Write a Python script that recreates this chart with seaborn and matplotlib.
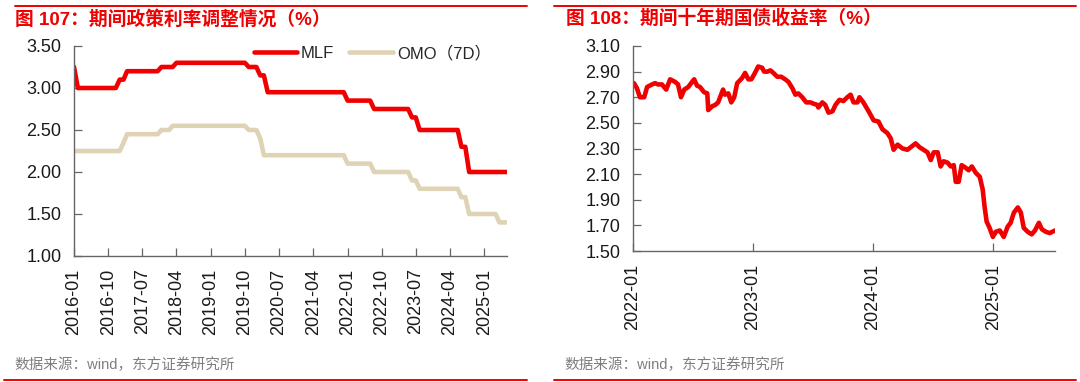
import pandas as pd
import matplotlib
matplotlib.use("Agg")
import matplotlib.pyplot as plt
import matplotlib.dates as mdates
from matplotlib.lines import Line2D
import seaborn as sns

# left chart: monthly policy rates, 2016-01 .. 2025-07
months = pd.date_range("2016-01-01", "2025-07-01", freq="MS")
mlf = ([3.25] + [3.00] * 11 + [3.10] * 2 + [3.20] * 9 + [3.25] * 4 + [3.30] * 19
       + [3.25] * 3 + [3.15] * 2 + [2.95] * 21 + [2.85] * 7 + [2.75] * 10
       + [2.65] * 2 + [2.50] * 11 + [2.30] * 2 + [2.00] * 11)
omo = ([2.25] * 13 + [2.35] + [2.45] * 9 + [2.50] * 3 + [2.55] * 20 + [2.50] * 3
       + [2.40] + [2.20] * 22 + [2.10] * 7 + [2.00] * 10 + [1.90] * 2
       + [1.80] * 11 + [1.70] * 2 + [1.50] * 8 + [1.40] * 3)

# right chart: 10y government bond yield
bond_dates = [
    "2022-01-04", "2022-01-13", "2022-01-22", "2022-02-04", "2022-02-13", "2022-02-28",
    "2022-03-09", "2022-03-18", "2022-03-30", "2022-04-12", "2022-04-24", "2022-05-09",
    "2022-05-18", "2022-05-27", "2022-06-06", "2022-06-18", "2022-07-06", "2022-07-15",
    "2022-07-24", "2022-08-05", "2022-08-15", "2022-08-18", "2022-08-30", "2022-09-08",
    "2022-09-17", "2022-10-02", "2022-10-08", "2022-10-18", "2022-10-27", "2022-11-05",
    "2022-11-14", "2022-11-29", "2022-12-08", "2022-12-18", "2022-12-27", "2023-01-05",
    "2023-01-17", "2023-01-29", "2023-02-04", "2023-02-14", "2023-02-23", "2023-03-04",
    "2023-03-16", "2023-03-28", "2023-04-09", "2023-04-19", "2023-05-01", "2023-05-10",
    "2023-05-19", "2023-05-31", "2023-06-12", "2023-06-25", "2023-07-04", "2023-07-16",
    "2023-07-19", "2023-07-31", "2023-08-09", "2023-08-19", "2023-08-31", "2023-09-09",
    "2023-09-21", "2023-10-03", "2023-10-15", "2023-10-25", "2023-11-03", "2023-11-15",
    "2023-11-21", "2023-12-03", "2023-12-19", "2024-01-03", "2024-01-18", "2024-01-30",
    "2024-02-14", "2024-02-24", "2024-03-04", "2024-03-16", "2024-03-31", "2024-04-15",
    "2024-04-25", "2024-05-10", "2024-05-22", "2024-06-03", "2024-06-15", "2024-06-25",
    "2024-07-04", "2024-07-16", "2024-07-25", "2024-08-03", "2024-08-15", "2024-08-25",
    "2024-09-03", "2024-09-09", "2024-09-18", "2024-09-27", "2024-10-09", "2024-10-18",
    "2024-10-28", "2024-11-09", "2024-11-21", "2024-11-30", "2024-12-06", "2024-12-12",
    "2024-12-21", "2024-12-31", "2025-01-09", "2025-01-21", "2025-02-02", "2025-02-14",
    "2025-02-23", "2025-03-05", "2025-03-17", "2025-03-26", "2025-04-04", "2025-04-16",
    "2025-04-28", "2025-05-08", "2025-05-20", "2025-05-29", "2025-06-10", "2025-06-22",
    "2025-07-08",
]
bond_yield = [
    2.81, 2.77, 2.70, 2.70, 2.78, 2.80, 2.81, 2.80, 2.80, 2.76, 2.84, 2.82,
    2.80, 2.70, 2.76, 2.78, 2.84, 2.79, 2.78, 2.74, 2.73, 2.60, 2.63, 2.64,
    2.66, 2.76, 2.72, 2.73, 2.66, 2.70, 2.81, 2.85, 2.89, 2.84, 2.84, 2.88,
    2.94, 2.93, 2.90, 2.90, 2.91, 2.89, 2.86, 2.86, 2.84, 2.82, 2.77, 2.72,
    2.73, 2.70, 2.66, 2.66, 2.65, 2.64, 2.62, 2.66, 2.64, 2.58, 2.59, 2.64,
    2.68, 2.67, 2.70, 2.72, 2.66, 2.66, 2.70, 2.66, 2.59, 2.52, 2.51, 2.45,
    2.42, 2.38, 2.29, 2.33, 2.30, 2.29, 2.31, 2.34, 2.31, 2.29, 2.27, 2.21,
    2.27, 2.27, 2.16, 2.20, 2.19, 2.16, 2.17, 2.04, 2.04, 2.17, 2.15, 2.13,
    2.16, 2.11, 2.08, 1.98, 1.84, 1.73, 1.68, 1.61, 1.65, 1.66, 1.61, 1.69,
    1.72, 1.80, 1.84, 1.80, 1.68, 1.65, 1.63, 1.66, 1.72, 1.67, 1.65, 1.64,
    1.66,
]

left_title = "图 107：期间政策利率调整情况（%）"
right_title = "图 108：期间十年期国债收益率（%）"
source = "数据来源：wind，东方证券研究所"

RED = "#F00000"
BEIGE = "#DFD3B6"
SPINE = "#666666"

sns.set_style("white")
plt.rcParams["font.family"] = ["Liberation Sans", "Noto Sans CJK SC"]

rates = pd.DataFrame({"month": months, "MLF": mlf, "OMO（7D）": omo})
bond = pd.DataFrame({"date": pd.to_datetime(bond_dates), "yield": bond_yield})

fig = plt.figure(figsize=(10.8, 3.82), dpi=100)
ax1 = fig.add_axes([74 / 1080, 1 - 256 / 382, (507 - 74) / 1080, (256 - 46) / 382])
ax2 = fig.add_axes([633 / 1080, 1 - 251 / 382, (1055 - 633) / 1080, (251 - 46) / 382])

sns.lineplot(data=rates, x="month", y="MLF", ax=ax1, color=RED, linewidth=3.3, label="MLF")
sns.lineplot(data=rates, x="month", y="OMO（7D）", ax=ax1, color=BEIGE, linewidth=3.3, label="OMO（7D）")
sns.lineplot(data=bond, x="date", y="yield", ax=ax2, color=RED, linewidth=3.3)

ax1.set_ylim(1.0, 3.5)
ax1.set_yticks([1.0, 1.5, 2.0, 2.5, 3.0, 3.5])
ax1.set_xlim(months[0], months[-1])
ax1.set_xticks(pd.date_range("2016-01-01", "2025-07-01", freq="9MS"))
ax1.xaxis.set_major_formatter(mdates.DateFormatter("%Y-%m"))

ax2.set_ylim(1.5, 3.1)
ax2.set_yticks([1.5, 1.7, 1.9, 2.1, 2.3, 2.5, 2.7, 2.9, 3.1])
ax2.set_xlim(pd.Timestamp("2022-01-01"), bond["date"].iloc[-1])
ax2.set_xticks(pd.to_datetime(["2022-01-01", "2023-01-01", "2024-01-01", "2025-01-01"]))
ax2.xaxis.set_major_formatter(mdates.DateFormatter("%Y-%m"))

for ax in (ax1, ax2):
    ax.set_xlabel("")
    ax.set_ylabel("")
    for side in ("top", "right"):
        ax.spines[side].set_visible(False)
    for side in ("left", "bottom"):
        ax.spines[side].set_color(SPINE)
        ax.spines[side].set_linewidth(1.0)
    ax.yaxis.set_major_formatter(matplotlib.ticker.FormatStrFormatter("%.2f"))
    ax.tick_params(axis="both", direction="in", length=5.5, width=0.9, color=SPINE,
                   labelsize=13, labelcolor="#1a1a1a", pad=9)
    ax.tick_params(axis="x", labelrotation=90)
    ax.tick_params(axis="y", left=True)
    ax.tick_params(axis="x", bottom=True)

ax1.legend(loc="center right", bbox_to_anchor=(491 / 1080, 1 - 53 / 382),
           bbox_transform=fig.transFigure, ncol=2, frameon=False, fontsize=12,
           handlelength=2.6, handletextpad=0.25, columnspacing=0.9,
           borderpad=0, borderaxespad=0)

title_font = ["Liberation Sans", "Noto Sans CJK SC"]
fig.text(15 / 1080, 1 - 19 / 382, left_title, color=RED, fontsize=13.5, fontweight="bold",
         family=title_font, va="center", ha="left")
fig.text(566 / 1080, 1 - 19 / 382, right_title, color=RED, fontsize=13.5, fontweight="bold",
         family=title_font, va="center", ha="left")
fig.text(14 / 1080, 1 - 365 / 382, source, color="#7f7f7f", fontsize=10.5,
         family=title_font, va="center", ha="left")
fig.text(564 / 1080, 1 - 365 / 382, source, color="#7f7f7f", fontsize=10.5,
         family=title_font, va="center", ha="left")

for x0, x1 in ((15, 527), (554, 1076)):
    fig.add_artist(Line2D([x0 / 1080, x1 / 1080], [1 - 6 / 382] * 2,
                          transform=fig.transFigure, color=RED, linewidth=1.4))
for x0, x1 in ((4, 527), (554, 1076)):
    fig.add_artist(Line2D([x0 / 1080, x1 / 1080], [1 - 379.5 / 382] * 2,
                          transform=fig.transFigure, color=RED, linewidth=1.4))

fig.savefig("out.png", dpi=100)
